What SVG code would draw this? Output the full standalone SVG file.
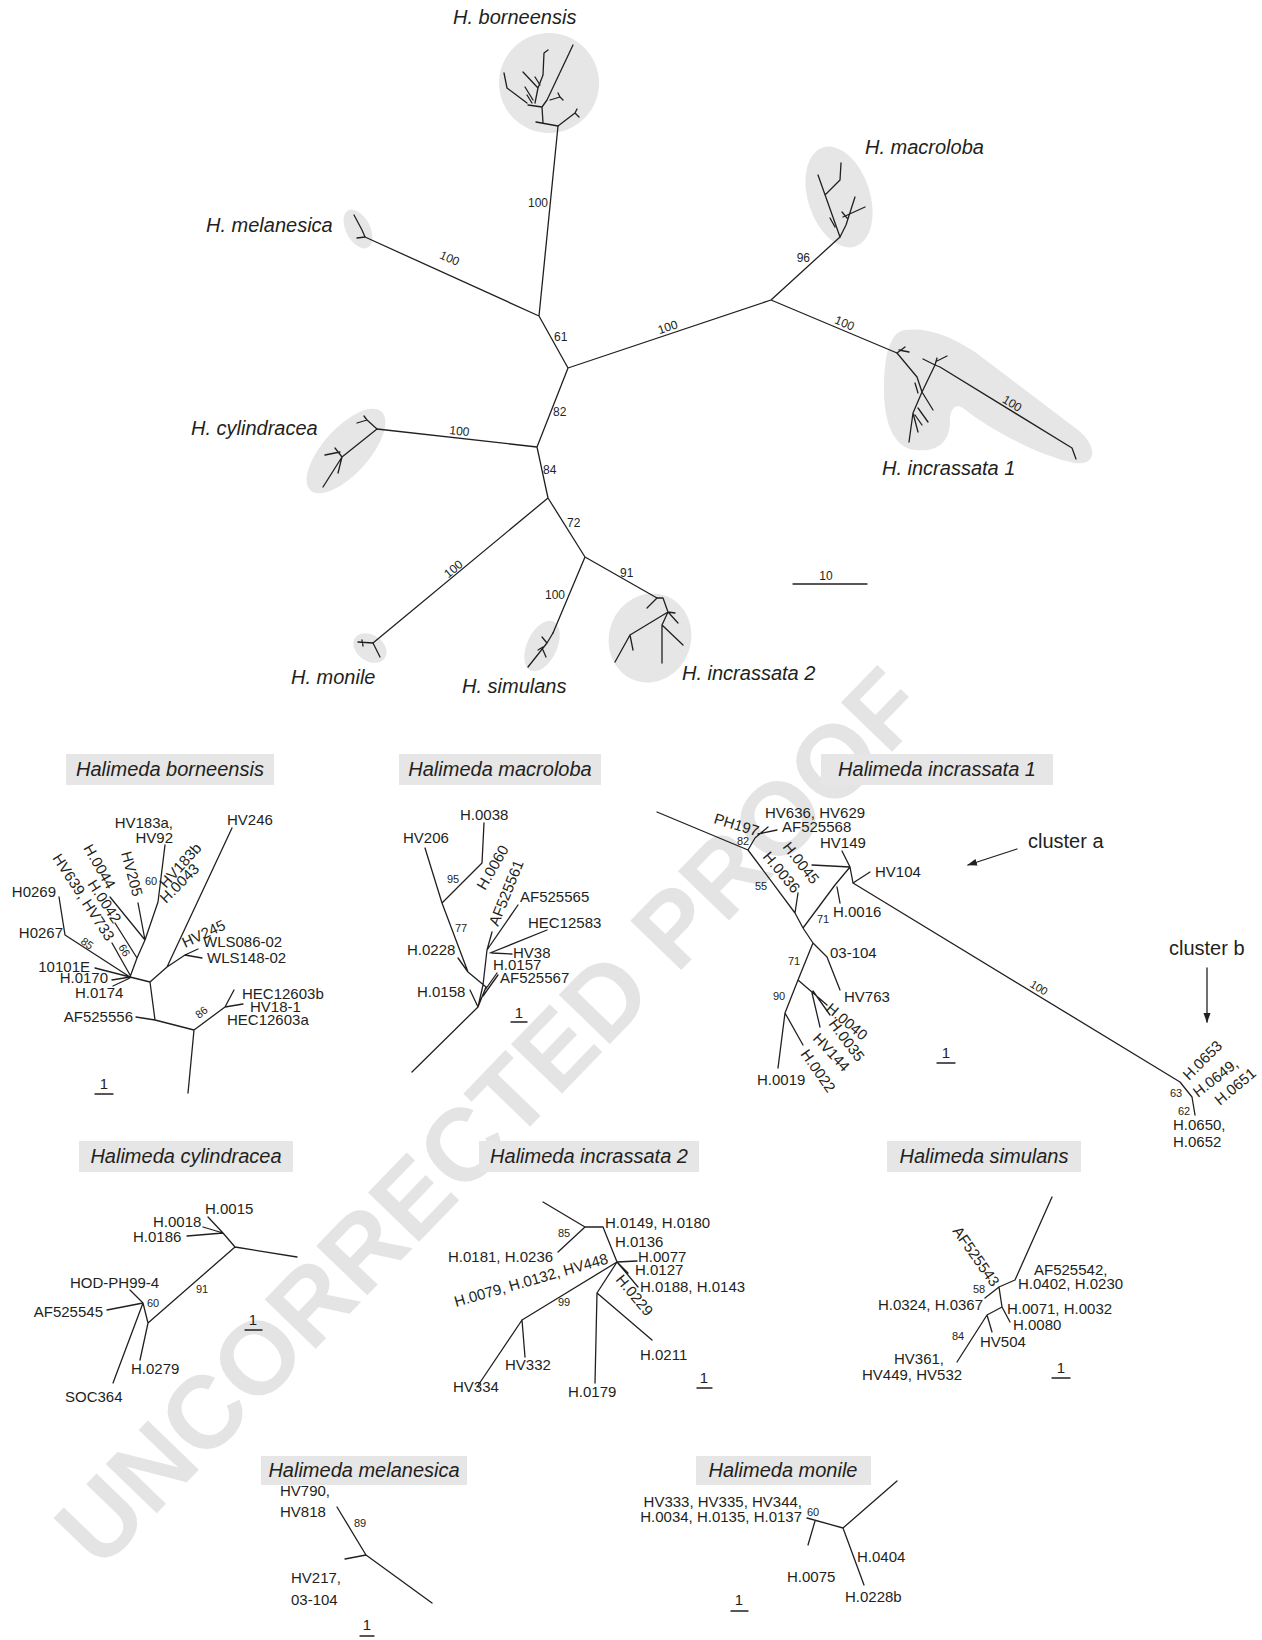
<svg xmlns="http://www.w3.org/2000/svg" width="1262" height="1640" viewBox="0 0 1262 1640">
<defs>
<style>
.br{stroke:#231f20;stroke-width:1.3;fill:none;stroke-linecap:round;stroke-linejoin:round}
.hl{fill:#e6e6e7}
.tb{fill:#e6e6e6}
text{font-family:"Liberation Sans",Arial,sans-serif;fill:#231f20}
.sp{font-size:20px;font-style:italic}
.tt{font-size:20px;font-style:italic;text-anchor:middle}
.lb{font-size:15px}
.bs{font-size:11px}
.bt{font-size:12px}
.cl{font-size:20px}
.wm{font-size:103px;font-weight:bold;fill:#e4e4e4;text-anchor:middle}
.e{text-anchor:end}
.m{text-anchor:middle}
</style>
<marker id="ah" viewBox="0 0 10 10" refX="9" refY="5" markerWidth="10" markerHeight="10" markerUnits="userSpaceOnUse" orient="auto"><path d="M0,1.5 L10,5 L0,8.5 Z" fill="#231f20"/></marker>
</defs>
<rect width="1262" height="1640" fill="#ffffff"/>
<text class="wm" transform="translate(489,1116) rotate(-46)" y="37">UNCORRECTED PROOF</text>

<!-- ===== Overview tree ===== -->
<g id="overview-highlights">
<circle class="hl" cx="549" cy="83" r="50"/>
<ellipse class="hl" cx="358" cy="229" rx="12" ry="21" transform="rotate(-28 358 229)"/>
<ellipse class="hl" cx="839" cy="197" rx="31" ry="52" transform="rotate(-18 839 197)"/>
<path class="hl" d="M905,330 C925,327 950,335 975,352 L1078,430 C1098,446 1097,466 1075,463 C1040,456 990,430 963,408 C955,403 950,410 950,420 C950,445 935,452 915,450 C895,448 884,425 884,390 C884,355 890,332 905,330 Z"/>
<ellipse class="hl" cx="346" cy="451" rx="23" ry="53" transform="rotate(42 346 451)"/>
<ellipse class="hl" cx="370" cy="648" rx="18" ry="13" transform="rotate(35 370 648)"/>
<ellipse class="hl" cx="542" cy="646" rx="15" ry="27" transform="rotate(25 542 646)"/>
<ellipse class="hl" cx="650" cy="638" rx="41" ry="45" transform="rotate(20 650 638)"/>
</g>

<g id="overview-connectors">
<path class="br" d="M539,316 L558,126 M539,316 L365,237 M539,316 L568,368 M568,368 L771,300 M771,300 L840,237 M771,300 L897,353 M568,368 L537,447 M537,447 L377,429 M537,447 L548,498 M548,498 L373,643 M548,498 L585,557 M585,557 L553,633 M585,557 L657,598"/>
</g>

<g id="ov-borneensis">
<path class="br" d="M536,122 L558,126 L575,113 M575,113 L577,109 M575,113 L579,117 M543,123 L542,107 L528,105 M547,100 L573,45 M542,107 L547,100 M548,50 L544,53 L543,75 L538,88 L535,103 M523,72 L538,88 M504,73 L507,88 L527,103 M525,87 L533,100 M527,95 L532,103 M550,100 L560,97 M558,93 L560,97 L563,100 M535,77 L540,85"/>
<text class="sp" x="453" y="24">H. borneensis</text>
<text class="bt e" x="548" y="207">100</text>
</g>
<g id="ov-melanesica">
<path class="br" d="M365,237 L362,230 L354,215 M357,238 L365,237"/>
<text class="sp" x="206" y="232">H. melanesica</text>
<text class="bt m" transform="translate(448,262) rotate(24)">100</text>
</g>
<text class="bt" x="554" y="341">61</text>
<text class="bt m" transform="translate(669,331) rotate(-18.5)">100</text>
<g id="ov-macroloba">
<path class="br" d="M818,175 L840,237 L846,225 L855,197 M825,195 L840,180 L841,163 M843,217 L865,207 M842,212 L847,218 M830,218 L835,227"/>
<text class="sp" x="865" y="154">H. macroloba</text>
<text class="bt e" x="810" y="262">96</text>
</g>
<g id="ov-incrassata1">
<path class="br" d="M897,353 L917,377 L922,392 L913,413 L909,442 M897,353 L905,347 M899,350 L909,352 M922,392 L935,365 L940,367 M935,365 L923,359 M935,365 L937,358 M937,361 L947,356 M940,367 L1072,448 L1076,459 M915,383 L918,393 M922,392 L933,410 M913,413 L918,432 M918,408 L928,422 M915,415 L922,425"/>
<text class="sp" x="882" y="475">H. incrassata 1</text>
<text class="bt m" transform="translate(843,327) rotate(22.8)">100</text>
<text class="bt m" transform="translate(1010,407) rotate(31.5)">100</text>
</g>
<text class="bt" x="553" y="416">82</text>
<g id="ov-cylindracea">
<path class="br" d="M377,429 L367,420 M357,423 L367,420 M364,416 L367,420 M377,429 L342,457 L323,487 M342,457 L338,473 M342,457 L335,448 M325,455 L340,452"/>
<text class="sp" x="191" y="435">H. cylindracea</text>
<text class="bt m" transform="translate(459,435) rotate(6.4)">100</text>
</g>
<text class="bt" x="543" y="474">84</text>
<g id="ov-monile">
<path class="br" d="M373,643 L380,657 M373,643 L358,642 M362,640 L363,646"/>
<text class="sp" x="291" y="684">H. monile</text>
<text class="bt m" transform="translate(456,572) rotate(-39.6)">100</text>
</g>
<text class="bt" x="567" y="527">72</text>
<g id="ov-simulans">
<path class="br" d="M553,633 L547,643 L528,667 M542,637 L547,643 M538,650 L543,647 M543,650 L546,657"/>
<text class="sp" x="462" y="693">H. simulans</text>
<text class="bt e" x="565" y="599">100</text>
</g>
<g id="ov-incrassata2">
<path class="br" d="M657,598 L663,598 L668,612 M657,598 L647,608 M668,612 L678,623 M668,612 L630,635 L615,662 M630,635 L633,650 M668,612 L662,625 L662,663 M662,625 L683,645 M668,612 L675,613"/>
<text class="sp" x="682" y="680">H. incrassata 2</text>
<text class="bt" x="620" y="577">91</text>
</g>
<g id="ov-scale">
<path class="br" d="M793,584 L867,584"/>
<text class="bt m" x="826" y="580">10</text>
</g>

<!-- ===== Halimeda borneensis ===== -->
<g id="borneensis">
<rect class="tb" x="66" y="754" width="208" height="31"/>
<text class="tt" x="170" y="776">Halimeda borneensis</text>
<path class="br" d="M188,1093 L194,1030 L155,1020 L150,982 M155,1020 L136,1017 M194,1030 L225,1007 M225,1007 L234,990 M225,1007 L243,1004 M150,982 L130,977 M150,982 L167,967 L232,828 M167,967 L185,955 L198,949 M185,955 L202,958 M130,977 L137,958 L145,940 L158,902 L165,845 M145,940 L138,903 M145,940 L110,897 M137,958 L115,923 M130,975 L112,943 M130,977 L65,935 L59,897 M130,977 L95,968 M130,977 L112,980 M130,978 L113,986"/>
<text class="lb" x="227" y="825">HV246</text>
<text class="lb e" x="173" y="828">HV183a,</text>
<text class="lb e" x="173" y="843">HV92</text>
<text class="bs" x="145" y="885">60</text>
<text class="lb" transform="translate(166,889) rotate(-48)">HV183b</text>
<text class="lb" transform="translate(166,904) rotate(-45)">H.0043</text>
<text class="lb" transform="translate(121,853) rotate(75)">HV205</text>
<text class="lb" transform="translate(83,848) rotate(60)">H.0044</text>
<text class="lb" transform="translate(87,884) rotate(57)">H.0042</text>
<text class="lb" transform="translate(52,858) rotate(57)">HV639, HV733</text>
<text class="bs" transform="translate(118,947) rotate(60)">66</text>
<text class="lb e" x="56" y="897">H0269</text>
<text class="lb e" x="63" y="938">H0267</text>
<text class="bs" transform="translate(80,943) rotate(35)">85</text>
<text class="lb e" x="90" y="972">10101E</text>
<text class="lb e" x="108" y="983">H.0170</text>
<text class="lb" x="75" y="998">H.0174</text>
<text class="lb e" x="133" y="1022">AF525556</text>
<text class="bs" transform="translate(199,1019) rotate(-38)">86</text>
<text class="lb" x="242" y="999">HEC12603b</text>
<text class="lb" x="250" y="1012">HV18-1</text>
<text class="lb" x="227" y="1025">HEC12603a</text>
<text class="lb" x="203" y="947">WLS086-02</text>
<text class="lb" x="207" y="963">WLS148-02</text>
<text class="lb" transform="translate(185,948) rotate(-25)">HV245</text>
<path class="br" d="M95,1094 L113,1094"/>
<text class="lb m" x="104" y="1089">1</text>
</g>

<!-- ===== Halimeda macroloba ===== -->
<g id="macroloba">
<rect class="tb" x="399" y="754" width="202" height="31"/>
<text class="tt" x="500" y="776">Halimeda macroloba</text>
<path class="br" d="M412,1072 L478,1007 L470,990 M478,1007 L486,987 L468,972 L458,958 M468,972 L442,903 L425,848 M442,903 L482,863 L484,823 M478,1007 L483,985 L487,950 L492,932 M487,950 L518,905 M490,953 L547,930 M492,953 L512,954 M485,990 L497,973 M483,996 L498,975"/>
<text class="lb" x="417" y="997">H.0158</text>
<text class="lb" x="407" y="955">H.0228</text>
<text class="lb" x="403" y="843">HV206</text>
<text class="lb" x="460" y="820">H.0038</text>
<text class="lb" transform="translate(485,891) rotate(-60)">H.0060</text>
<text class="bs" x="447" y="883">95</text>
<text class="bs" x="455" y="932">77</text>
<text class="lb" transform="translate(498,927) rotate(-68)">AF525561</text>
<text class="lb" x="520" y="902">AF525565</text>
<text class="lb" x="528" y="928">HEC12583</text>
<text class="lb" x="513" y="958">HV38</text>
<text class="lb" x="493" y="970">H.0157</text>
<text class="lb" x="500" y="983">AF525567</text>
<path class="br" d="M511,1022 L527,1022"/>
<text class="lb m" x="519" y="1018">1</text>
</g>

<!-- ===== Halimeda incrassata 1 ===== -->
<g id="incrassata1">
<rect class="tb" x="821" y="754" width="232" height="31"/>
<text class="tt" x="937" y="776">Halimeda incrassata 1</text>
<path class="br" d="M657,812 L748,850 L755,838 L768,827 M758,834 L777,830 M748,850 L795,913 L803,928 L813,943 M795,913 L798,893 M803,928 L835,885 L850,867 M837,887 L840,903 M850,867 L812,865 M850,867 L842,851 M850,867 L853,883 L870,872 M853,883 L1180,1082 L1192,1097 L1195,1115 M813,943 L827,957 L840,990 M813,943 L798,980 L785,1013 L778,1068 M798,980 L827,1005 M813,991 L830,1015 M812,993 L820,1027 M785,1013 L803,1045"/>
<text class="lb" transform="translate(713,823) rotate(17)">PH197</text>
<text class="lb" x="765" y="818">HV636, HV629</text>
<text class="lb" x="782" y="832">AF525568</text>
<text class="bs" x="737" y="845">82</text>
<text class="lb" transform="translate(782,847) rotate(52)">H.0045</text>
<text class="lb" transform="translate(762,857) rotate(50)">H.0036</text>
<text class="bs" x="755" y="890">55</text>
<text class="lb" x="820" y="848">HV149</text>
<text class="lb" x="875" y="877">HV104</text>
<text class="lb" x="833" y="917">H.0016</text>
<text class="bs" x="817" y="923">71</text>
<text class="lb" x="830" y="958">03-104</text>
<text class="lb" x="844" y="1002">HV763</text>
<text class="bs" x="788" y="965">71</text>
<text class="bs" x="773" y="1000">90</text>
<text class="lb" transform="translate(825,1010) rotate(40)">H.0040</text>
<text class="lb" transform="translate(828,1024) rotate(53)">H.0035</text>
<text class="lb" transform="translate(812,1039) rotate(47)">HV144</text>
<text class="lb" transform="translate(800,1054) rotate(55)">H.0022</text>
<text class="lb" x="757" y="1085">H.0019</text>
<text class="bs m" transform="translate(1037,991) rotate(31.3)">100</text>
<text class="lb" transform="translate(1189,1081) rotate(-45)">H.0653</text>
<text class="lb" transform="translate(1198,1098) rotate(-38)">H.0649,</text>
<text class="lb" transform="translate(1220,1106) rotate(-40)">H.0651</text>
<text class="bs" x="1170" y="1097">63</text>
<text class="bs" x="1178" y="1115">62</text>
<text class="lb" x="1173" y="1130">H.0650,</text>
<text class="lb" x="1173" y="1147">H.0652</text>
<path class="br" d="M937,1063 L955,1063"/>
<text class="lb m" x="946" y="1058">1</text>
</g>
<g id="cluster-a">
<text class="cl" x="1028" y="848">cluster a</text>
</g>
<g id="cluster-b">
<text class="cl" x="1169" y="955">cluster b</text>
</g>
<g id="cluster-arrows">
<path class="br" d="M1017,849 L968,865" marker-end="url(#ah)"/>
<path class="br" d="M1207,968 L1207,1022" marker-end="url(#ah)"/>
</g>

<!-- ===== Halimeda cylindracea ===== -->
<g id="cylindracea">
<rect class="tb" x="79" y="1141" width="214" height="31"/>
<text class="tt" x="186" y="1163">Halimeda cylindracea</text>
<path class="br" d="M297,1257 L235,1247 L223,1233 L208,1217 M223,1233 L203,1227 M223,1233 L187,1236 M235,1247 L148,1323 L143,1303 L130,1290 M148,1323 L140,1360 M143,1303 L107,1310 M143,1303 L113,1383"/>
<text class="lb" x="205" y="1214">H.0015</text>
<text class="lb" x="153" y="1227">H.0018</text>
<text class="lb" x="133" y="1242">H.0186</text>
<text class="lb" x="70" y="1288">HOD-PH99-4</text>
<text class="lb e" x="103" y="1317">AF525545</text>
<text class="lb" x="65" y="1402">SOC364</text>
<text class="lb" x="131" y="1374">H.0279</text>
<text class="bs" x="196" y="1293">91</text>
<text class="bs" x="147" y="1307">60</text>
<path class="br" d="M245,1330 L262,1330"/>
<text class="lb m" x="253" y="1325">1</text>
</g>

<!-- ===== Halimeda incrassata 2 ===== -->
<g id="incrassata2">
<rect class="tb" x="479" y="1141" width="220" height="31"/>
<text class="tt" x="589" y="1163">Halimeda incrassata 2</text>
<path class="br" d="M543,1202 L585,1227 L603,1227 L617,1262 M585,1227 L558,1252 M617,1262 L637,1261 M617,1262 L628,1273 M617,1262 L638,1287 M617,1262 L522,1320 L477,1387 M522,1320 L525,1357 M617,1262 L597,1293 L595,1383 M597,1293 L652,1340"/>
<text class="bs" x="558" y="1237">85</text>
<text class="lb" x="605" y="1228">H.0149, H.0180</text>
<text class="lb" x="448" y="1262">H.0181, H.0236</text>
<text class="lb" x="615" y="1247">H.0136</text>
<text class="lb" x="638" y="1262">H.0077</text>
<text class="lb" x="635" y="1275">H.0127</text>
<text class="lb" x="640" y="1292">H.0188, H.0143</text>
<text class="lb" transform="translate(615,1280) rotate(50)">H.0229</text>
<text class="lb" transform="translate(456,1307) rotate(-16)">H.0079, H.0132, HV448</text>
<text class="bs" x="558" y="1306">99</text>
<text class="lb" x="453" y="1392">HV334</text>
<text class="lb" x="505" y="1370">HV332</text>
<text class="lb" x="568" y="1397">H.0179</text>
<text class="lb" x="640" y="1360">H.0211</text>
<path class="br" d="M697,1388 L712,1388"/>
<text class="lb m" x="704" y="1383">1</text>
</g>

<!-- ===== Halimeda simulans ===== -->
<g id="simulans">
<rect class="tb" x="887" y="1141" width="194" height="31"/>
<text class="tt" x="984" y="1163">Halimeda simulans</text>
<path class="br" d="M1052,1197 L1015,1280 L999,1287 L985,1298 M999,1287 L1002,1307 L1010,1322 M1002,1307 L987,1315 L957,1362 M987,1315 L992,1332"/>
<text class="lb" transform="translate(952,1231) rotate(55)">AF525543</text>
<text class="bs" x="973" y="1293">58</text>
<text class="lb e" x="983" y="1310">H.0324, H.0367</text>
<text class="lb" x="1034" y="1275">AF525542,</text>
<text class="lb" x="1018" y="1289">H.0402, H.0230</text>
<text class="lb" x="1007" y="1314">H.0071, H.0032</text>
<text class="lb" x="1013" y="1330">H.0080</text>
<text class="bs" x="952" y="1340">84</text>
<text class="lb" x="980" y="1347">HV504</text>
<text class="lb e" x="944" y="1364">HV361,</text>
<text class="lb" x="862" y="1380">HV449, HV532</text>
<path class="br" d="M1052,1378 L1070,1378"/>
<text class="lb m" x="1061" y="1373">1</text>
</g>

<!-- ===== Halimeda melanesica ===== -->
<g id="melanesica">
<rect class="tb" x="261" y="1456" width="206" height="29"/>
<text class="tt" x="364" y="1477">Halimeda melanesica</text>
<path class="br" d="M337,1507 L366,1555 L432,1603 M345,1559 L366,1555"/>
<text class="lb" x="280" y="1496">HV790,</text>
<text class="lb" x="280" y="1517">HV818</text>
<text class="bs" x="354" y="1527">89</text>
<text class="lb" x="291" y="1583">HV217,</text>
<text class="lb" x="291" y="1605">03-104</text>
<path class="br" d="M360,1636 L374,1636"/>
<text class="lb m" x="367" y="1630">1</text>
</g>

<!-- ===== Halimeda monile ===== -->
<g id="monile">
<rect class="tb" x="696" y="1456" width="175" height="29"/>
<text class="tt" x="783" y="1477">Halimeda monile</text>
<path class="br" d="M897,1481 L843,1528 L807,1518 M815,1521 L808,1545 M843,1528 L864,1585"/>
<text class="lb e" x="802" y="1507">HV333, HV335, HV344,</text>
<text class="lb e" x="802" y="1522">H.0034, H.0135, H.0137</text>
<text class="bs" x="807" y="1516">60</text>
<text class="lb" x="857" y="1562">H.0404</text>
<text class="lb" x="787" y="1582">H.0075</text>
<text class="lb" x="845" y="1602">H.0228b</text>
<path class="br" d="M731,1611 L748,1611"/>
<text class="lb m" x="739" y="1605">1</text>
</g>
</svg>
